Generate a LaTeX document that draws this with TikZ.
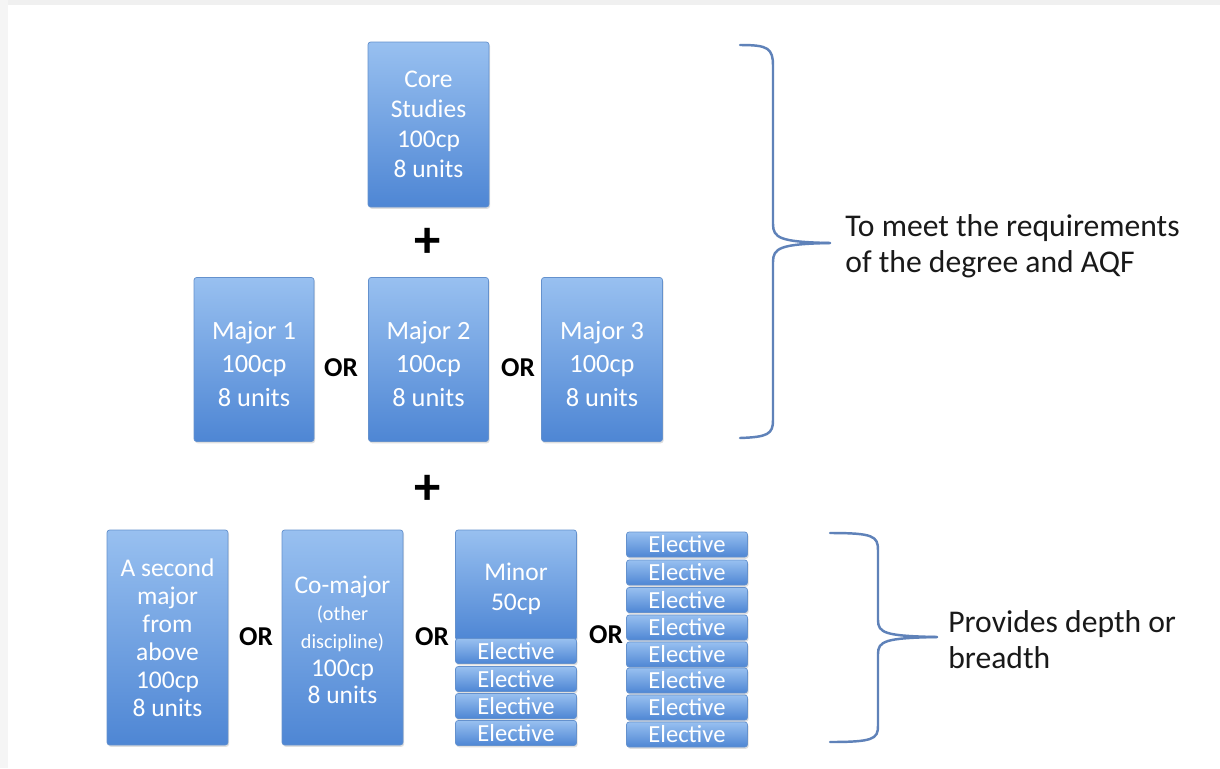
\documentclass[tikz,border=0pt]{standalone}
\usepackage{fontspec}
\setmainfont{Carlito}
\usetikzlibrary{shadows}
\definecolor{boxtop}{RGB}{152,192,240}
\definecolor{boxbot}{RGB}{78,134,212}
\definecolor{boxedge}{RGB}{100,145,205}
\definecolor{bracecol}{RGB}{95,130,185}
\newcommand{\boxlines}[2]{\raisebox{#1}[0pt][0pt]{\begin{tabular}{@{}c@{}}#2\end{tabular}}}
\tikzset{
  box/.style={rounded corners=1.5pt, top color=boxtop, bottom color=boxbot, draw=boxedge, line width=0.4pt,
    text=white, align=center, inner sep=0pt,
    font=\fontsize{14.5}{17.2}\selectfont,
    drop shadow={opacity=0.25, shadow xshift=0.6pt, shadow yshift=-1pt}},
  bx/.style 2 args={box, minimum width=#1*0.02cm, minimum height=#2*0.02cm},
  elec/.style={box, minimum width=121*0.02cm, minimum height=25*0.02cm, font=\fontsize{14}{14}\selectfont},
  ortext/.style={font=\fontsize{15.5}{16}\selectfont\bfseries, inner sep=0pt},
  plustext/.style={font=\fontsize{30}{30}\selectfont\bfseries, inner sep=0pt},
  label/.style={font=\fontsize{18}{20.4}\selectfont, align=left, inner sep=0pt, anchor=west, text=black!90},
  bracepath/.style={draw=bracecol, line width=1.4pt, line cap=round}
}
\begin{document}
\begin{tikzpicture}[x=0.02cm, y=-0.02cm]
\useasboundingbox[fill=white] (0,0) rectangle (1220,768);
\fill[black!6] (0,0) rectangle (1220,5);
\fill[black!4] (0,0) rectangle (8,768);

% top section
\node[bx={121}{165}, font=\fontsize{14.5}{17}\selectfont] (core) at (428.5,124.5) {Core\\Studies\\100cp\\8 units};
\node[plustext] (plus1) at (428,243) {+};
\node[bx={120}{164}, font=\fontsize{15}{19}\selectfont] (m1) at (254,359.5) {\boxlines{-7.4pt}{Major 1\\100cp\\8 units}};
\node[bx={120}{164}, font=\fontsize{15}{19}\selectfont] (m2) at (428.5,359.5) {\boxlines{-7.4pt}{Major 2\\100cp\\8 units}};
\node[bx={121}{164}, font=\fontsize{15}{19}\selectfont] (m3) at (602,359.5) {\boxlines{-7.4pt}{Major 3\\100cp\\8 units}};
\node[ortext] (or1) at (341,368) {OR};
\node[ortext] (or2) at (518,368) {OR};
\node[plustext] (plus2) at (428,490) {+};

% bottom section
\node[bx={121}{215}, font=\fontsize{14.5}{15.9}\selectfont] (sec) at (167.5,637.5) {A second\\major\\from\\above\\100cp\\8 units};
\node[ortext] (or3) at (256,637) {OR};
\node[bx={121}{215}, font=\fontsize{14.5}{15.7}\selectfont] (com) at (342.5,637.5) {\boxlines{-6.7pt}{Co-major\\{\fontsize{11.5}{14}\selectfont (other}\\{\fontsize{11.5}{14}\selectfont discipline)}\\100cp\\8 units}};
\node[ortext] (or4) at (432,637) {OR};
\node[bx={121}{110}, font=\fontsize{14.5}{17}\selectfont] (minor) at (516,585) {\boxlines{-6.1pt}{Minor\\50cp}};
\node[elec] (me1) at (516,651) {Elective};
\node[elec] (me2) at (516,679) {Elective};
\node[elec] (me3) at (516,706) {Elective};
\node[elec] (me4) at (516,733) {Elective};
\node[ortext] (or5) at (606,635) {OR};
\foreach \yy [count=\i] in {544.5,572.5,600,627.5,654.5,680.5,707.5,734.5}
  \node[elec] (e\i) at (687,\yy) {Elective};

% braces
\coordinate (b1tip) at (830,243);
\coordinate (b2tip) at (937,637);
\draw[bracepath] (740,45) .. controls (768,45) and (773,48) .. (773,66) -- (773,224)
  .. controls (773,238) and (780,242) .. (b1tip);
\draw[bracepath] (b1tip) .. controls (780,244) and (773,248) .. (773,262) -- (773,420)
  .. controls (773,434) and (768,437) .. (740,438);
\draw[bracepath] (830,533) .. controls (873,533) and (878,536) .. (878,550) -- (878,620)
  .. controls (878,633) and (885,636) .. (b2tip);
\draw[bracepath] (b2tip) .. controls (885,638) and (878,641) .. (878,654) -- (878,726)
  .. controls (878,739) and (873,742) .. (830,742);

\node[label] (t1) at (845,246) {To meet the requirements\\of the degree and AQF};
\node[label] (t2) at (948,640) {Provides depth or\\breadth};
\end{tikzpicture}
\end{document}
